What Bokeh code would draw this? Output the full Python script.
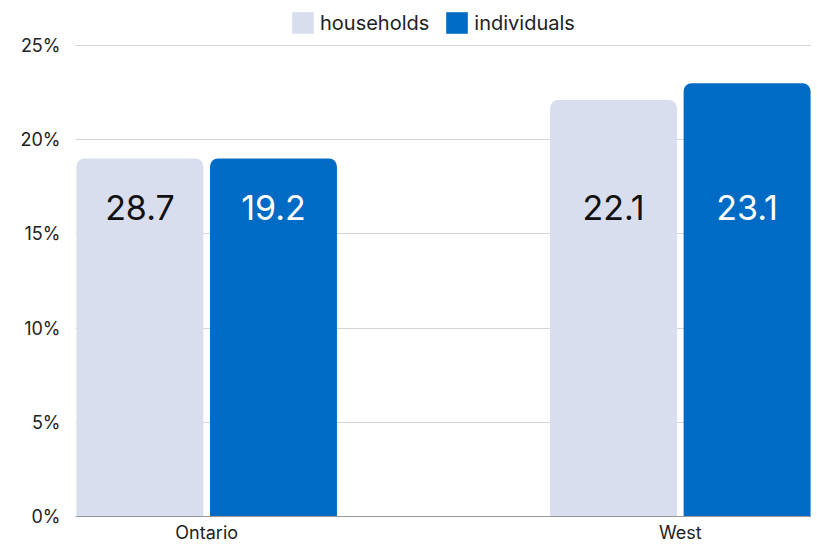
from bokeh.plotting import figure
from bokeh.models import ColumnDataSource, Legend, LegendItem, FixedTicker, NumeralTickFormatter
from bokeh.core.properties import value
from bokeh.embed import file_html
from bokeh.resources import INLINE

regions = ["Ontario", "West"]
series = ["households", "individuals"]
households = [19.0, 22.1]
individuals = [19.0, 23.0]
households_labels = ["28.7", "22.1"]
individuals_labels = ["19.2", "23.1"]
y_ticks = [0, 5, 10, 15, 20, 25]

FONT = "Inter"
C_H = "#d9deef"
C_I = "#006bc4"
LABEL_Y = 16.4
Y_TOP = 27.12  # headroom above 25% so the legend sits inside the frame

xpos = list(range(len(regions)))
off = 0.141
bw = 0.268

p = figure(width=811, height=545, output_backend="svg", toolbar_location=None,
           x_range=(-0.277, 1.277), y_range=(0, Y_TOP),
           min_border_left=75, min_border_right=0, min_border_top=5, min_border_bottom=26)
p.outline_line_color = None

src_h = ColumnDataSource(dict(x=[x - off for x in xpos], top=households, lab=households_labels))
src_i = ColumnDataSource(dict(x=[x + off for x in xpos], top=individuals, lab=individuals_labels))

rh = p.vbar(x="x", top="top", width=bw, source=src_h, fill_color=C_H, line_color=None,
            border_radius=(8, 8, 0, 0))
ri = p.vbar(x="x", top="top", width=bw, source=src_i, fill_color=C_I, line_color=None,
            border_radius=(8, 8, 0, 0))

p.text(x="x", y=LABEL_Y, text="lab", source=src_h, text_align="center", text_baseline="middle",
       text_font=value(FONT), text_font_size="34px", text_color="#111111")
p.text(x="x", y=LABEL_Y, text="lab", source=src_i, text_align="center", text_baseline="middle",
       text_font=value(FONT), text_font_size="34px", text_color="#ffffff")

p.xgrid.grid_line_color = None
p.ygrid.grid_line_color = "#d4d4d4"
p.ygrid.ticker = FixedTicker(ticks=y_ticks)

p.yaxis.ticker = FixedTicker(ticks=y_ticks)
p.yaxis.formatter = NumeralTickFormatter(format="0")
p.yaxis.major_label_overrides = {t: f"{t}%" for t in y_ticks}
p.yaxis.axis_line_color = None
p.yaxis.major_tick_line_color = None
p.yaxis.minor_tick_line_color = None
p.yaxis.major_tick_out = 0
p.yaxis.minor_tick_out = 0
p.yaxis.major_label_text_font = FONT
p.yaxis.major_label_text_font_size = "18px"
p.yaxis.major_label_text_color = "#222222"
p.yaxis.major_label_standoff = 15

p.xaxis.ticker = FixedTicker(ticks=xpos)
p.xaxis.major_label_overrides = {i: r for i, r in enumerate(regions)}
p.xaxis.axis_line_color = "#999999"
p.xaxis.major_tick_line_color = None
p.xaxis.minor_tick_line_color = None
p.xaxis.major_tick_out = 0
p.xaxis.minor_tick_out = 0
p.xaxis.major_label_text_font = FONT
p.xaxis.major_label_text_font_size = "18px"
p.xaxis.major_label_text_color = "#222222"
p.xaxis.major_label_standoff = 5

legend = Legend(items=[LegendItem(label=series[0], renderers=[rh]),
                       LegendItem(label=series[1], renderers=[ri])],
                orientation="horizontal", location=(214, 480),
                glyph_width=27, glyph_height=27, label_height=27, label_standoff=4,
                spacing=14, padding=0, margin=0,
                label_text_font=FONT, label_text_font_size="20px", label_text_color="#222222",
                background_fill_alpha=0, border_line_color=None)
p.add_layout(legend, "center")

open("out.html", "w").write(file_html(p, INLINE))
